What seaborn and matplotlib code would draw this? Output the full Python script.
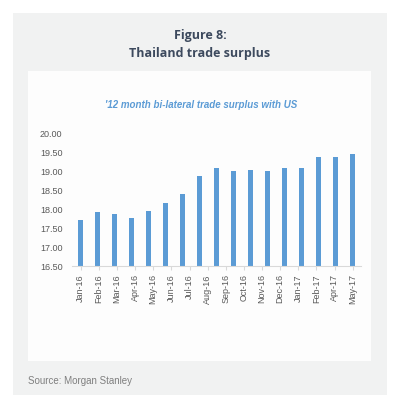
import matplotlib
matplotlib.use('Agg')
import matplotlib.pyplot as plt
import numpy as np
import pandas as pd
import seaborn as sns
from matplotlib.patches import Rectangle

# Data
months = ['Jan-16', 'Feb-16', 'Mar-16', 'Apr-16', 'May-16', 'Jun-16', 'Jul-16',
          'Aug-16', 'Sep-16', 'Oct-16', 'Nov-16', 'Dec-16', 'Jan-17', 'Feb-17',
          'Mar-17', 'Apr-17', 'May-17']
surplus = [17.70, 17.92, 17.88, 17.77, 17.95, 18.15, 18.40, 18.88, 19.09,
           19.01, 19.04, 18.99, 19.09, 19.07, 19.36, 19.36, 19.46]
# the source chart only shows 16 labels spread over the 17 bars
tick_labels = ['Jan-16', 'Feb-16', 'Mar-16', 'Apr-16', 'May-16', 'Jun-16', 'Jul-16',
               'Aug-16', 'Sep-16', 'Oct-16', 'Nov-16', 'Dec-16', 'Jan-17', 'Feb-17',
               'Apr-17', 'May-17']
y_ticks = [16.5, 17.0, 17.5, 18.0, 18.5, 19.0, 19.5, 20.0]

df = pd.DataFrame({'month': months, 'surplus': surplus})

narrow = ['Liberation Sans', 'DejaVu Sans']

fig = plt.figure(figsize=(4, 3.99), dpi=100)
fig.patch.set_facecolor('white')

# grey card and white chart panel
fig.add_artist(Rectangle((13 / 400, 4 / 399), 374 / 400, 382 / 399,
                         transform=fig.transFigure, facecolor='#f1f2f2',
                         edgecolor='none', zorder=0))
fig.add_artist(Rectangle((28.3 / 400, 38.3 / 399), 342.7 / 400, 290 / 399,
                         transform=fig.transFigure, facecolor='#fdfdfd',
                         edgecolor='none', zorder=0))

ax = fig.add_axes([0.1805, 0.3333, 0.7225, 0.3333])
ax.set_facecolor('none')
sns.barplot(data=df, x='month', y='surplus', color='#5b9bd5', width=0.29,
            saturation=1, ax=ax)

ax.set_ylim(16.5, 20.0)
ax.set_xlim(-0.5, len(months) - 0.5)
ax.set_yticks(y_ticks)
ax.set_yticklabels([f'{v:.2f}' for v in y_ticks], family=narrow, fontsize=6.5,
                   color='#595959')
ax.set_xticks(np.linspace(0, len(months) - 1, len(tick_labels)))
ax.set_xticklabels(tick_labels, rotation=90, family=narrow, fontsize=6.5,
                   color='#595959')
ax.tick_params(axis='y', length=0, pad=7)
ax.tick_params(axis='x', length=3, color='#d9d9d9', pad=3)
ax.set_xlabel('')
ax.set_ylabel('')
for s in ['top', 'right', 'left']:
    ax.spines[s].set_visible(False)
ax.spines['bottom'].set_color('#d9d9d9')
ax.spines['bottom'].set_linewidth(0.8)

# titles
fig.text(0.5, 1 - 35 / 399, 'Figure 8:', ha='center', va='center',
         fontsize=9, fontweight='bold', color='#3d4a5e', family='Open Sans')
fig.text(0.5, 1 - 53 / 399, 'Thailand trade surplus', ha='center', va='center',
         fontsize=9, fontweight='bold', color='#3d4a5e', family='Open Sans')
fig.text(201 / 400, 1 - 104.5 / 399, "'12 month bi-lateral trade surplus with US",
         ha='center', va='center', fontsize=7, fontstyle='italic',
         fontweight='bold', color='#5b9bd5', family=narrow)
fig.text(28 / 400, 1 - 381 / 399, 'Source: Morgan Stanley', ha='left',
         va='center', fontsize=7, color='#7f7f7f', family=narrow)

fig.savefig('out.png', dpi=100)
